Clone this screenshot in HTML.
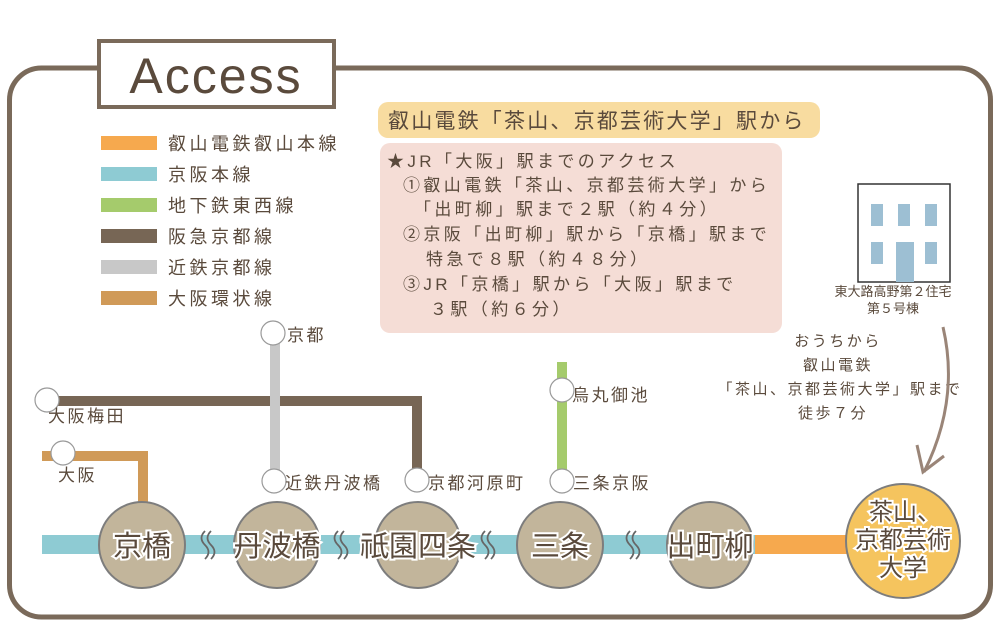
<!DOCTYPE html>
<html><head><meta charset="utf-8"><style>
html,body{margin:0;padding:0;background:#fff}
svg{display:block}
text{font-family:"Liberation Sans","Noto Sans CJK JP",sans-serif;fill:#5a4a3c}
</style></head><body>
<svg width="1000" height="638" viewBox="0 0 1000 638" xmlns="http://www.w3.org/2000/svg">
<rect x="9.5" y="68" width="981" height="549" rx="32" fill="#fff" stroke="#7a6a5a" stroke-width="5"/>
<rect x="99" y="41" width="235" height="66" fill="#fff" stroke="#7a6a5a" stroke-width="4"/>
<text x="216" y="93" font-size="50" text-anchor="middle" font-family="Liberation Sans" letter-spacing="2">Access</text>

<g font-size="18" letter-spacing="3.5">
<rect x="101" y="136" width="56" height="14" fill="#f6a94e"/><text x="168" y="150">叡山電鉄叡山本線</text>
<rect x="101" y="167" width="56" height="14" fill="#8ecbd3"/><text x="168" y="181">京阪本線</text>
<rect x="101" y="198" width="56" height="14" fill="#a5cb6c"/><text x="168" y="212">地下鉄東西線</text>
<rect x="101" y="229" width="56" height="14" fill="#776655"/><text x="168" y="243">阪急京都線</text>
<rect x="101" y="260" width="56" height="14" fill="#c8c8c8"/><text x="168" y="274">近鉄京都線</text>
<rect x="101" y="291" width="56" height="14" fill="#d09a58"/><text x="168" y="305">大阪環状線</text>
</g>

<rect x="378" y="102" width="442" height="36" rx="10" fill="#f8dca0"/>
<text x="388" y="128" font-size="21" letter-spacing="2.2">叡山電鉄「茶山、京都芸術大学」駅から</text>
<rect x="380" y="143" width="402" height="190" rx="10" fill="#f5ddd6"/>
<g font-size="17" letter-spacing="3.4">
<text x="387" y="167">★JR「大阪」駅までのアクセス</text>
<text x="403" y="191">①叡山電鉄「茶山、京都芸術大学」から</text>
<text x="414" y="215">「出町柳」駅まで２駅（約４分）</text>
<text x="403" y="240">②京阪「出町柳」駅から「京橋」駅まで</text>
<text x="426" y="265">特急で８駅（約４８分）</text>
<text x="403" y="290">③JR「京橋」駅から「大阪」駅まで</text>
<text x="430" y="315">３駅（約６分）</text>
</g>

<rect x="858" y="184" width="92" height="98" fill="#fff" stroke="#333" stroke-width="1.5"/>
<g fill="#9dbfd3">
<rect x="871" y="204" width="12" height="22"/><rect x="898" y="204" width="12" height="22"/><rect x="925" y="204" width="12" height="22"/>
<rect x="871" y="242" width="12" height="22"/><rect x="896" y="242" width="18" height="40"/><rect x="925" y="242" width="12" height="22"/>
</g>
<g font-size="13" text-anchor="middle">
<text x="893" y="296">東大路高野第２住宅</text>
<text x="893" y="313">第５号棟</text>
</g>
<g font-size="15" text-anchor="middle" letter-spacing="2.5">
<text x="838" y="346">おうちから</text>
<text x="838" y="370">叡山電鉄</text>
<text x="840" y="394">「茶山、京都芸術大学」駅まで</text>
<text x="833" y="418">徒歩７分</text>
</g>
<path d="M943 327 Q960 400 924 472" fill="none" stroke="#9a8578" stroke-width="3"/>
<path d="M917 445 L923 472 L944 456" fill="none" stroke="#9a8578" stroke-width="3"/>

<path d="M42 456 H143 V510" fill="none" stroke="#d09a58" stroke-width="10"/>
<path d="M52 401 H417 V480" fill="none" stroke="#776655" stroke-width="10"/>
<path d="M275 333 V480" stroke="#c8c8c8" stroke-width="10"/>
<path d="M562 362 V480" stroke="#a5cb6c" stroke-width="10"/>
<rect x="42" y="535" width="715" height="19" fill="#8ecbd3"/>
<rect x="755" y="535" width="110" height="19" fill="#f6a94e"/>

<g fill="#fff" stroke="#999" stroke-width="1.2">
<circle cx="273" cy="333" r="12"/><circle cx="47" cy="400" r="12"/><circle cx="63" cy="453" r="12"/>
<circle cx="274" cy="481" r="12"/><circle cx="417" cy="480" r="12"/><circle cx="562" cy="390" r="12"/><circle cx="562" cy="481" r="12"/>
</g>
<g font-size="17" letter-spacing="2.5">
<text x="287" y="341">京都</text>
<text x="48" y="422">大阪梅田</text>
<text x="58" y="481">大阪</text>
<text x="285" y="489">近鉄丹波橋</text>
<text x="428" y="489">京都河原町</text>
<text x="572" y="401">烏丸御池</text>
<text x="573" y="489">三条京阪</text>
</g>

<g stroke="#7d7d7d" stroke-width="2" fill="#c2b59b">
<circle cx="142" cy="545" r="43"/><circle cx="277" cy="545" r="43"/><circle cx="418" cy="545" r="43"/>
<circle cx="560" cy="545" r="43"/><circle cx="710" cy="545" r="43"/>
<circle cx="903" cy="541" r="57" fill="#f5c45e"/>
</g>
<g fill="none" stroke="#666" stroke-width="1.8">
<g transform="translate(207,545)"><path d="M-2 -14 Q-9 -7 -2 0 Q5 7 -2 14"/><path d="M4 -14 Q-3 -7 4 0 Q11 7 4 14"/></g>
<g transform="translate(340,545)"><path d="M-2 -14 Q-9 -7 -2 0 Q5 7 -2 14"/><path d="M4 -14 Q-3 -7 4 0 Q11 7 4 14"/></g>
<g transform="translate(487,545)"><path d="M-2 -14 Q-9 -7 -2 0 Q5 7 -2 14"/><path d="M4 -14 Q-3 -7 4 0 Q11 7 4 14"/></g>
<g transform="translate(632,545)"><path d="M-2 -14 Q-9 -7 -2 0 Q5 7 -2 14"/><path d="M4 -14 Q-3 -7 4 0 Q11 7 4 14"/></g>
</g>
<g font-size="29" text-anchor="middle" stroke="#fff" stroke-width="4" paint-order="stroke">
<text x="142" y="556">京橋</text>
<text x="277" y="556">丹波橋</text>
<text x="418" y="556">祇園四条</text>
<text x="560" y="556">三条</text>
<text x="710" y="556">出町柳</text>
</g>
<g font-size="24" text-anchor="middle" stroke="#fff" stroke-width="4" paint-order="stroke">
<text x="905" y="520">茶山、</text>
<text x="903" y="548">京都芸術</text>
<text x="903" y="576">大学</text>
</g>
</svg>
</body></html>
